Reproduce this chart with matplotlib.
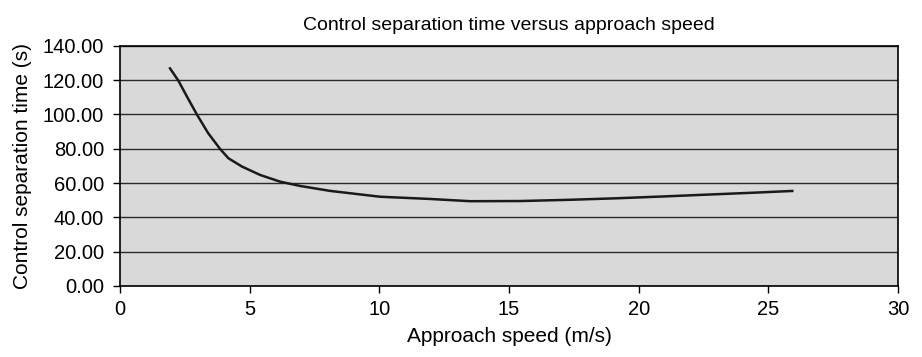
import matplotlib
matplotlib.use("Agg")
import matplotlib.pyplot as plt

plt.rcParams['font.family'] = ['Liberation Sans', 'DejaVu Sans']

speed = [1.90, 2.25, 2.60, 2.96, 3.40, 3.86, 4.18, 4.70, 5.40, 6.17, 6.94, 8.10,
         10.03, 11.96, 13.50, 15.43, 17.30, 19.15, 21.00, 22.90, 24.50, 25.97]
sep_time = [127.4, 119.6, 109.8, 100.0, 89.0, 79.8, 74.4, 69.6, 64.7, 60.8, 58.3, 55.4,
            52.0, 50.7, 49.4, 49.5, 50.2, 51.1, 52.2, 53.4, 54.4, 55.4]
yticks = [0, 20, 40, 60, 80, 100, 120, 140]
xticks = [0, 5, 10, 15, 20, 25, 30]

fig = plt.figure(figsize=(9.22, 3.57), dpi=100)
ax = fig.add_axes([0.1302, 0.1989, 0.8438, 0.6731])
ax.set_facecolor('#d9d9d9')
ax.plot(speed, sep_time, color='#1a1a1a', lw=1.8, solid_capstyle='butt')
ax.set_xlim(0, 30)
ax.set_ylim(0, 140)
ax.set_xticks(xticks)
ax.set_yticks(yticks)
ax.set_yticklabels([f"{v:.2f}" for v in yticks])
ax.yaxis.grid(True, color='#2a2a2a', lw=1.0)
ax.set_axisbelow(True)
for s in ax.spines.values():
    s.set_color('black')
    s.set_linewidth(1.2)
ax.tick_params(axis='both', direction='out', length=5, width=1.0, labelsize=14.5, colors='black')
ax.tick_params(axis='y', pad=6.5)
ax.tick_params(axis='x', pad=5)
ax.set_xlabel('Approach speed (m/s)', fontsize=15, labelpad=6)
ax.set_ylabel('Control separation time (s)', fontsize=15, labelpad=8)
ax.set_title('Control separation time versus approach speed', fontsize=14, pad=11)
fig.savefig('out.png', dpi=100)
